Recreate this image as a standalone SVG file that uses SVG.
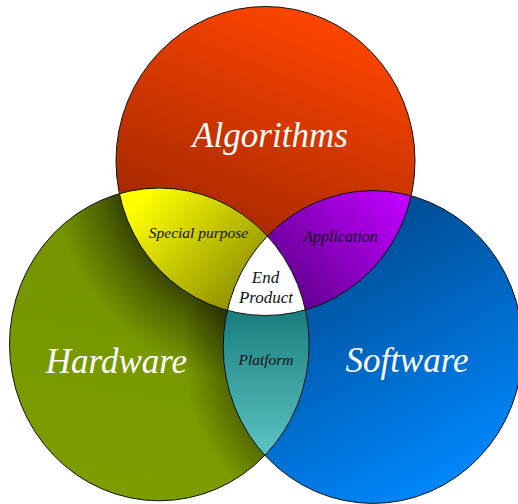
<svg xmlns="http://www.w3.org/2000/svg" width="518" height="504" viewBox="0 0 518 504">
  <defs>
    <linearGradient id="gTop" gradientUnits="userSpaceOnUse" x1="330" y1="15" x2="215" y2="300">
      <stop offset="0" stop-color="#ff4500"/>
      <stop offset="1" stop-color="#922200"/>
    </linearGradient>
    <linearGradient id="gLeft" gradientUnits="userSpaceOnUse" x1="100" y1="480" x2="150" y2="200">
      <stop offset="0" stop-color="#7c9c00"/>
      <stop offset="1" stop-color="#749300"/>
    </linearGradient>
    <linearGradient id="gRight" gradientUnits="userSpaceOnUse" x1="360" y1="230" x2="490" y2="470">
      <stop offset="0" stop-color="#004e96"/>
      <stop offset="1" stop-color="#0088ff"/>
    </linearGradient>
    <radialGradient id="shTop" gradientUnits="userSpaceOnUse" cx="265.5" cy="161" r="220" gradientTransform="translate(265.5 161) scale(1 1.033) translate(-265.5 -161)">
      <stop offset="0" stop-color="#000" stop-opacity="0.52"/>
      <stop offset="0.68" stop-color="#000" stop-opacity="0.52"/>
      <stop offset="0.78" stop-color="#000" stop-opacity="0.32"/>
      <stop offset="0.98" stop-color="#000" stop-opacity="0"/>
    </radialGradient>
    <radialGradient id="shRight" gradientUnits="userSpaceOnUse" cx="373" cy="347" r="200" gradientTransform="translate(373 347) scale(1 1.044) translate(-373 -347)">
      <stop offset="0" stop-color="#000" stop-opacity="0.3"/>
      <stop offset="0.75" stop-color="#000" stop-opacity="0.3"/>
      <stop offset="0.95" stop-color="#000" stop-opacity="0"/>
    </radialGradient>
    <linearGradient id="gYellow" gradientUnits="userSpaceOnUse" x1="140" y1="200" x2="245" y2="300">
      <stop offset="0" stop-color="#ffff00"/>
      <stop offset="1" stop-color="#8c8e00"/>
    </linearGradient>
    <linearGradient id="gPurple" gradientUnits="userSpaceOnUse" x1="405" y1="200" x2="300" y2="300">
      <stop offset="0" stop-color="#c000ff"/>
      <stop offset="1" stop-color="#660094"/>
    </linearGradient>
    <linearGradient id="gTeal" gradientUnits="userSpaceOnUse" x1="265" y1="315" x2="265" y2="455">
      <stop offset="0" stop-color="#1c8080"/>
      <stop offset="1" stop-color="#5cc4c4"/>
    </linearGradient>
    <clipPath id="cTop"><ellipse cx="265.5" cy="161" rx="149.5" ry="154.5"/></clipPath>
    <clipPath id="cLeft"><ellipse cx="159.3" cy="344.4" rx="149.8" ry="156.4"/></clipPath>
    <clipPath id="cRight"><ellipse cx="373" cy="347" rx="149.8" ry="156.4"/></clipPath>
    <style>
      .big { font-family: "Liberation Serif", "DejaVu Serif", serif; font-style: italic; font-size: 35px; fill: #ffffff; text-anchor: middle; }
      .small { font-family: "Liberation Serif", "DejaVu Serif", serif; font-style: italic; font-size: 15.5px; fill: #111111; text-anchor: middle; }
      .outline { fill: none; stroke: #111111; stroke-width: 1; }
    </style>
  </defs>

  <g id="algorithms">
    <ellipse cx="265.5" cy="161" rx="149.5" ry="154.5" fill="url(#gTop)"/>
  </g>
  <g id="hardware">
    <ellipse cx="159.3" cy="344.4" rx="149.8" ry="156.4" fill="url(#gLeft)"/>
    <ellipse cx="159.3" cy="344.4" rx="149.8" ry="156.4" fill="url(#shTop)"/>
    <ellipse cx="159.3" cy="344.4" rx="149.8" ry="156.4" fill="url(#shRight)"/>
  </g>
  <g id="software">
    <ellipse cx="373" cy="347" rx="149.8" ry="156.4" fill="url(#gRight)"/>
  </g>
  <g id="special-purpose">
    <ellipse cx="159.3" cy="344.4" rx="149.8" ry="156.4" fill="url(#gYellow)" clip-path="url(#cTop)"/>
  </g>
  <g id="application">
    <ellipse cx="373" cy="347" rx="149.8" ry="156.4" fill="url(#gPurple)" clip-path="url(#cTop)"/>
  </g>
  <g id="platform">
    <ellipse cx="373" cy="347" rx="149.8" ry="156.4" fill="url(#gTeal)" clip-path="url(#cLeft)"/>
  </g>
  <g id="end-product">
    <g clip-path="url(#cLeft)">
      <ellipse cx="265.5" cy="161" rx="149.5" ry="154.5" fill="#ffffff" clip-path="url(#cRight)"/>
    </g>
  </g>

  <g id="outlines">
    <ellipse class="outline" cx="265.5" cy="161" rx="149.5" ry="154.5"/>
    <ellipse class="outline" cx="159.3" cy="344.4" rx="149.8" ry="156.4"/>
    <ellipse class="outline" cx="373" cy="347" rx="149.8" ry="156.4"/>
  </g>

  <g id="labels">
    <text class="big" x="270" y="147">Algorithms</text>
    <text class="big" x="116.5" y="373">Hardware</text>
    <text class="big" x="407" y="372">Software</text>
    <text class="small" x="198.5" y="238">Special purpose</text>
    <text class="small" x="340.5" y="242" style="font-size:16px">Application</text>
    <text class="small" x="266" y="365">Platform</text>
    <text class="small" x="265.5" y="283" style="font-size:17px">End</text>
    <text class="small" x="266" y="303" style="font-size:17px">Product</text>
  </g>
</svg>
